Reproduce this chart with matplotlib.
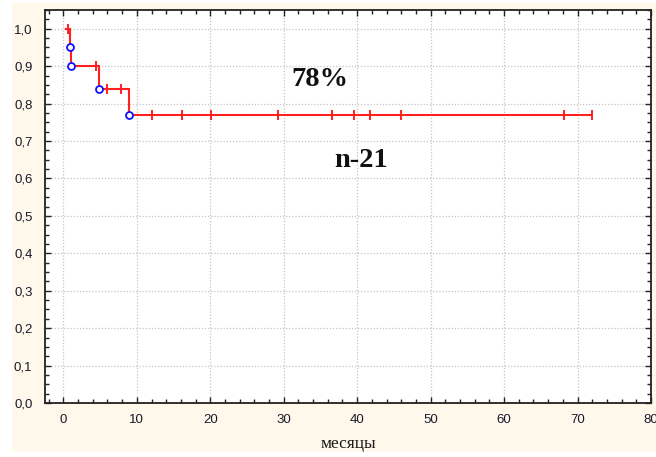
import matplotlib
matplotlib.use("Agg")
import matplotlib.pyplot as plt
from matplotlib.patches import Rectangle
from matplotlib.ticker import MultipleLocator, FuncFormatter
import numpy as np

# --- data (Kaplan-Meier curve, months) ---
start_time = 0.4
event_times = [0.9, 1.1, 4.9, 8.9]
survival = [0.95, 0.90, 0.84, 0.77]
censor_times = [0.6, 4.5, 6.0, 7.8, 12.1, 16.1, 20.05, 29.2, 36.6, 39.6,
                41.7, 45.9, 68.1, 71.9]
x_ticks = [0, 10, 20, 30, 40, 50, 60, 70, 80]
y_ticks = [0.0, 0.1, 0.2, 0.3, 0.4, 0.5, 0.6, 0.7, 0.8, 0.9, 1.0]
label_pct = "78%"
label_n = "n-21"
xlabel = "месяцы"

W, H = 656, 457
fig = plt.figure(figsize=(W / 100, H / 100), dpi=100)
fig.patch.set_facecolor("white")
bg = Rectangle((12 / W, 1 - 452 / H), (W - 12) / W, (452 - 3) / H,
               transform=fig.transFigure, facecolor="#FFF8EB",
               edgecolor="none", zorder=-10)
fig.add_artist(bg)

ax = fig.add_axes([45 / W, 1 - 403 / H, (651 - 45) / W, (403 - 10) / H])
ax.set_zorder(1)
ax.set_facecolor("white")
ax.set_xlim(-2.5, 80)
ax.set_ylim(0, 1.05)


def surv_at(t):
    s = 1.0
    for et, sv in zip(event_times, survival):
        if t >= et:
            s = sv
    return s


# step path
xs = [start_time]
ys = [1.0]
prev = 1.0
for et, sv in zip(event_times, survival):
    xs += [et, et]
    ys += [prev, sv]
    prev = sv
end_time = max(censor_times)
xs.append(end_time)
ys.append(prev)
ax.plot(xs, ys, color="#FF2020", lw=1.5, zorder=3, solid_joinstyle="miter")

# censor marks
ax.plot(censor_times, [surv_at(t) for t in censor_times], linestyle="none",
        marker="|", markersize=7, markeredgewidth=1.4, color="#FF2020", zorder=4)
# event marks
ax.plot(event_times, survival, linestyle="none", marker="o", markersize=5,
        markerfacecolor="white", markeredgecolor="#1010FF",
        markeredgewidth=1.3, zorder=5)

# axes styling
ax.set_xticks(x_ticks)
ax.set_yticks(y_ticks)
ax.xaxis.set_minor_locator(MultipleLocator(2))
ax.yaxis.set_minor_locator(MultipleLocator(0.025))
ax.yaxis.set_major_formatter(FuncFormatter(lambda v, p: f"{v:.1f}".replace(".", ",")))
ax.tick_params(which="both", direction="in", top=True, right=True,
               color="#222222", width=1.0)
ax.tick_params(which="major", length=4)
ax.tick_params(which="minor", length=3)
ax.tick_params(axis="both", labelsize=9.5, labelcolor="#1a1a2a")
ax.tick_params(axis="x", pad=8)
ax.tick_params(axis="y", pad=9)
for lab in ax.get_xticklabels() + ax.get_yticklabels():
    lab.set_family("Liberation Sans")
for s in ax.spines.values():
    s.set_color("#222222")
    s.set_linewidth(1.3)
ax.grid(True, which="major", linestyle=(0, (1, 1.5)), color="#C4C4C4", lw=0.9)
ax.set_axisbelow(True)

ax.set_xlabel(xlabel, family="Liberation Serif", fontsize=12.5, color="#1a1a1a",
              labelpad=7)

ax.text(34.9, 0.863, label_pct, family="Liberation Serif", fontweight="bold",
        fontsize=20.5, ha="center", va="center", color="#111111")
ax.text(40.5, 0.649, label_n, family="Liberation Serif", fontweight="bold",
        fontsize=20.5, ha="center", va="center", color="#111111")

fig.savefig("out.png", dpi=100)
